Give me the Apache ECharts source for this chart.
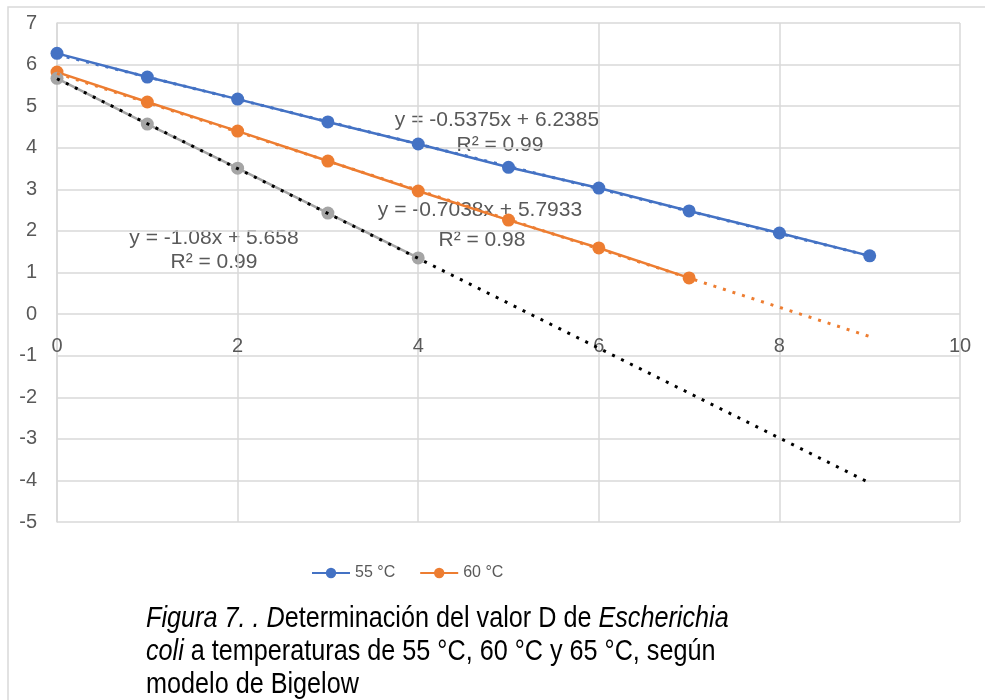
<!DOCTYPE html>
<html>
<head>
<meta charset="utf-8">
<script src="https://cdn.jsdelivr.net/npm/echarts@6/dist/echarts.min.js"></script>
<style>
  html, body { margin: 0; padding: 0; background: #fff; }
  #chart { width: 985px; height: 700px; }
</style>
</head>
<body>
<div id="chart"></div>
<script>
const times = [0, 1, 2, 3, 4, 5, 6, 7, 8, 9];
const t55 = [6.27, 5.70, 5.17, 4.62, 4.09, 3.53, 3.03, 2.48, 1.95, 1.40];
const t60 = [5.82, 5.10, 4.40, 3.68, 2.96, 2.26, 1.59, 0.87];
const t65 = [5.67, 4.57, 3.51, 2.43, 1.35];
// trend line end points
const trend55 = [[0, 6.24], [9, 1.40]];
const trend60 = [[0, 5.79], [9, -0.54]];
const trend65 = [[0, 5.66], [9, -4.06]];
const yTicks = [-5, 7];

~function () {
  let myChart = echarts.init(document.getElementById('chart'));
  const pairs = arr => arr.map((v, i) => [times[i], v]);
  const grey = '#595959';
  const font = 'Liberation Sans';

  function dataSeries(name, vals, color) {
    return {
      name: name,
      type: 'line',
      data: pairs(vals),
      symbol: 'circle',
      symbolSize: 13,
      itemStyle: { color: color },
      lineStyle: { color: color, width: 2.5 },
      z: 2
    };
  }
  function trendSeries(name, pts, color) {
    return {
      name: name,
      type: 'line',
      data: pts,
      symbol: 'none',
      lineStyle: { color: color, width: 3, type: [3, 7] },
      silent: true,
      z: 3
    };
  }
  function eqText(x, y, text) {
    return {
      type: 'text', x: x, y: y,
      style: { text: text, fill: grey, font: '21px ' + font, align: 'center', verticalAlign: 'middle' }
    };
  }

  let option = {
    animation: false,
    backgroundColor: '#fff',
    grid: { left: 57, top: 23, right: 25, bottom: 178 },
    legend: {
      data: ['55 °C', '60 °C'],
      left: 306, top: 560,
      itemWidth: 38, itemHeight: 13, itemGap: 24,
      textStyle: { color: grey, fontSize: 16, fontFamily: font }
    },
    xAxis: {
      type: 'value', min: 0, max: 10, interval: 2,
      offset: -208,
      axisLine: { show: false },
      axisTick: { show: false },
      axisLabel: { color: grey, fontSize: 20, fontFamily: font, margin: 22 },
      splitLine: { lineStyle: { color: '#d9d9d9', width: 1.5 } }
    },
    yAxis: {
      type: 'value', min: yTicks[0], max: yTicks[1], interval: 1,
      axisLine: { show: true, lineStyle: { color: '#d9d9d9', width: 1.5 } },
      axisTick: { show: false },
      axisLabel: { color: grey, fontSize: 20, fontFamily: font, margin: 20 },
      splitLine: { lineStyle: { color: '#d9d9d9', width: 1.5 } }
    },
    graphic: [
      { type: 'rect', shape: { x: 8, y: 7, width: 1200, height: 1200 }, style: { fill: 'none', stroke: '#d9d9d9', lineWidth: 1.5 }, silent: true },
      eqText(497, 120, 'y = -0.5375x + 6.2385'),
      eqText(500, 145, 'R² = 0.99'),
      eqText(480, 210, 'y = -0.7038x + 5.7933'),
      eqText(482, 240, 'R² = 0.98'),
      eqText(214, 238, 'y = -1.08x + 5.658'),
      eqText(214, 262, 'R² = 0.99'),
      {
        type: 'text', x: 146, y: 602, scaleX: 0.84,
        style: {
          text: '{i|Figura 7. . D}{n|eterminación del valor D de }{i|Escherichia}\n{i|coli}{n| a temperaturas de 55 °C, 60 °C y 65 °C, según}\n{n|modelo de Bigelow}',
          rich: {
            i: { fontSize: 30, fontStyle: 'italic', fill: '#000', fontFamily: font, lineHeight: 33 },
            n: { fontSize: 30, fill: '#000', fontFamily: font, lineHeight: 33 }
          }
        }
      }
    ],
    series: [
      dataSeries('55 °C', t55, '#4472C4'),
      dataSeries('60 °C', t60, '#ED7D31'),
      dataSeries('65 °C', t65, '#A5A5A5'),
      trendSeries('Lineal (55 °C)', trend55, '#4472C4'),
      trendSeries('Lineal (60 °C)', trend60, '#ED7D31'),
      trendSeries('Lineal (65 °C)', trend65, '#000000')
    ]
  };
  myChart.setOption(option);
}();
</script>
</body>
</html>
